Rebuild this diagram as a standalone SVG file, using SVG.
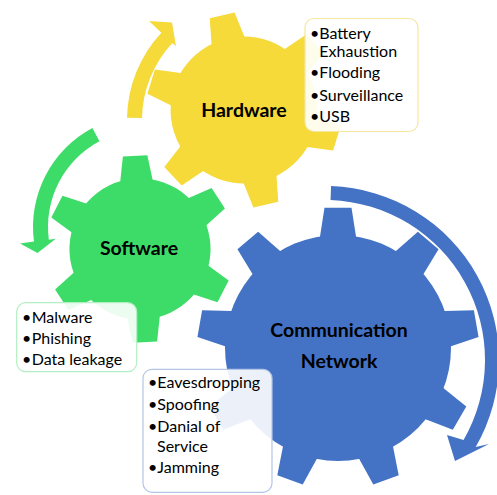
<svg xmlns="http://www.w3.org/2000/svg" xmlns:xlink="http://www.w3.org/1999/xlink" width="497" height="495" viewBox="0 0 497 495">
  <style>
    .lbl { font-family: Lato, "Liberation Sans", sans-serif; font-weight: 700; font-size: 19.5px; fill: #000; }
    .item { font-family: Lato, "Liberation Sans", sans-serif; font-size: 16px; fill: #000; }
    .box { fill: #fff; fill-opacity: 0.9; stroke-width: 1.2; }
  </style>
  <defs>
    <polygon id="t6" points="-17,-55 -16.5,-70.08 -12.5,-95.18 12.5,-95.18 16.5,-70.08 17,-55"/>
    <polygon id="t9" points="-19,-95 -18,-111.56 -13.5,-140.35 13.5,-140.35 18,-111.56 19,-95"/>
    <g id="gear6">
      <circle r="72"/>
      <use href="#t6"/>
      <use href="#t6" transform="rotate(60)"/>
      <use href="#t6" transform="rotate(120)"/>
      <use href="#t6" transform="rotate(180)"/>
      <use href="#t6" transform="rotate(240)"/>
      <use href="#t6" transform="rotate(300)"/>
    </g>
    <g id="gear9">
      <circle r="113"/>
      <use href="#t9"/>
      <use href="#t9" transform="rotate(40)"/>
      <use href="#t9" transform="rotate(80)"/>
      <use href="#t9" transform="rotate(120)"/>
      <use href="#t9" transform="rotate(160)"/>
      <use href="#t9" transform="rotate(200)"/>
      <use href="#t9" transform="rotate(240)"/>
      <use href="#t9" transform="rotate(280)"/>
      <use href="#t9" transform="rotate(320)"/>
    </g>
  </defs>

  <g id="connectors">
    <path id="arrow-hardware" fill="#F5DA3A" d="M 127.02,117.77 A 128 128 0 0 1 161.39,32.70 L 149,21 L 172,22.5 L 176,46.3 L 172.36,42.93 A 113 113 0 0 0 142.02,118.03 Z"/>
    <path id="arrow-software" fill="#3DDC68" d="M 92.42,128.11 A 112 112 0 0 0 33.96,241.62 L 20.08,243.45 L 37.5,253 L 55.77,238.75 L 48.83,239.66 A 97 97 0 0 1 99.46,141.35 Z"/>
    <path id="arrow-network" fill="#4472C4" d="M 331.07,186.11 A 174 174 0 0 1 475.69,447 L 489,444 L 455,461 L 447,435 L 463.56,440 A 160 160 0 0 0 330.58,200.10 Z"/>
  </g>

  <g id="gear-hardware">
    <use href="#gear6" fill="#F5DA3A" transform="translate(244 110) rotate(-13) scale(1.02)"/>
    <text class="lbl" x="244" y="117" text-anchor="middle">Hardware</text>
  </g>

  <g id="gear-software">
    <use href="#gear6" fill="#3DDC68" transform="translate(140 249) rotate(-3) scale(0.98)"/>
    <text class="lbl" x="139" y="255" text-anchor="middle">Software</text>
  </g>

  <g id="gear-network">
    <use href="#gear9" fill="#4472C4" transform="translate(338 348)"/>
    <text class="lbl" x="339" y="337" text-anchor="middle">Communication</text>
    <text class="lbl" x="339" y="368" text-anchor="middle">Network</text>
  </g>

  <g id="box-hardware">
    <rect class="box" x="305" y="18.5" width="113" height="113" rx="9" stroke="#F6E69E"/>
    <text class="item"><tspan x="310" y="38.5">•</tspan><tspan x="319.3">Battery</tspan></text>
    <text class="item" x="319.3" y="56.7">Exhaustion</text>
    <text class="item"><tspan x="310" y="78.3">•</tspan><tspan x="319.3">Flooding</tspan></text>
    <text class="item"><tspan x="310" y="100.7">•</tspan><tspan x="319.3">Surveillance</tspan></text>
    <text class="item"><tspan x="310" y="121.7">•</tspan><tspan x="319.3">USB</tspan></text>
  </g>

  <g id="box-software">
    <rect class="box" x="16.7" y="302.7" width="120" height="69" rx="9" stroke="#B3EFC2"/>
    <text class="item"><tspan x="22" y="322.5">•</tspan><tspan x="31.7">Malware</tspan></text>
    <text class="item"><tspan x="22" y="344">•</tspan><tspan x="31.7">Phishing</tspan></text>
    <text class="item"><tspan x="22" y="365">•</tspan><tspan x="31.7">Data leakage</tspan></text>
  </g>

  <g id="box-network">
    <rect class="box" x="143" y="369.3" width="129" height="123" rx="9" stroke="#B4C6E7"/>
    <text class="item"><tspan x="148" y="388.3">•</tspan><tspan x="157.3">Eavesdropping</tspan></text>
    <text class="item"><tspan x="148" y="410">•</tspan><tspan x="157.3">Spoofing</tspan></text>
    <text class="item"><tspan x="148" y="431.7">•</tspan><tspan x="157.3">Danial of</tspan></text>
    <text class="item" x="157" y="451.7">Service</text>
    <text class="item"><tspan x="148" y="473.3">•</tspan><tspan x="157.3">Jamming</tspan></text>
  </g>
</svg>
